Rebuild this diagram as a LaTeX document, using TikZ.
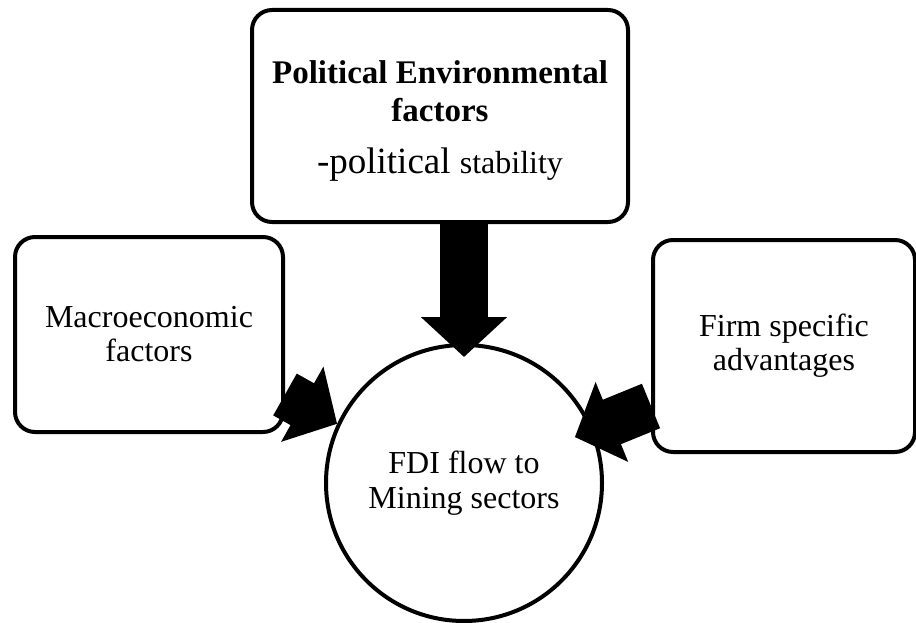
\documentclass[tikz,border=0pt]{standalone}
\usepackage{fontspec}
\setmainfont{Liberation Serif}
\usepackage{tikz}
\usetikzlibrary{arrows.meta, calc}

\newcommand{\headfont}{\fontsize{33}{38}\selectfont\bfseries}

\begin{document}
\begin{tikzpicture}[
    x=1pt, y=-1pt,
    line width=4pt,
    factor/.style={draw, rectangle, rounded corners=20pt, align=center, fill=white, font=\fontsize{32}{34}\selectfont},
    flow/.style={draw, circle, minimum size=276pt, inner sep=0pt, align=center, fill=white, font=\fontsize{32}{35}\selectfont},
    push/.style={draw, line width=48pt, -{Triangle[length=40pt, width=84pt]}}
]
    \useasboundingbox (0,0) rectangle (916,623);

    % ================= FACTORS & FLOW =================
    \node[factor, minimum width=376pt, minimum height=212pt] (POLIT) at (440, 116)
        {\rule{0pt}{33pt}\headfont Political Environmental\\[4pt]\headfont factors\\[18pt]
         \fontsize{37}{38}\selectfont -political \fontsize{32}{38}\selectfont stability};
    \node[factor, minimum width=268pt, minimum height=195pt] (MACRO) at (149, 334.5) {Macroeconomic\\factors};
    \node[factor, minimum width=262pt, minimum height=212pt] (FIRM) at (784, 346) {Firm specific\\advantages};
    \node[flow] (FDI) at (464, 483) {FDI flow to\\Mining sectors};

    % ================= BLOCK ARROWS =================
    \coordinate (FIRM_TIP) at ($(FDI.center)+(22.5:120pt)$);

    \draw[push] (FDI.north |- POLIT.south) -- ([yshift=-14pt]FDI.north);
    \draw[push] ([yshift=-60pt]MACRO.east) -- (FDI.155);
    \draw[push] ([yshift=-60pt]FIRM.west) -- (FIRM_TIP);

\end{tikzpicture}
\end{document}
